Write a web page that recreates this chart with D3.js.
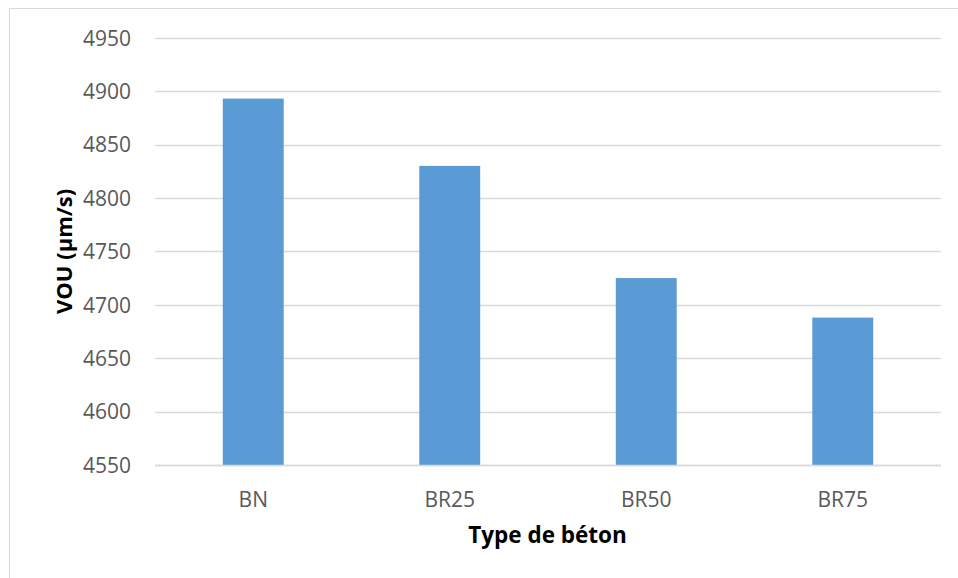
<!DOCTYPE html>
<html>
<head>
<meta charset="utf-8">
<script src="https://cdn.jsdelivr.net/npm/d3@7"></script>
<style>
  html, body { margin: 0; padding: 0; background: #fff; }
  svg { display: block; }
</style>
</head>
<body>
<svg id="chart" width="958" height="578"></svg>
<script>
// Ultrasonic pulse velocity per concrete type
const categories = ["BN", "BR25", "BR50", "BR75"];
const values = [4893, 4830, 4725, 4688];
const yTicks = [4550, 4600, 4650, 4700, 4750, 4800, 4850, 4900, 4950];
const yTitle = "VOU (µm/s)";
const xTitle = "Type de béton";

const svg = d3.select("#chart");
const plot = { left: 155, right: 941, top: 37.7, bottom: 465 };
const font = "'Open Sans', 'Noto Sans', sans-serif";

// outer chart frame
svg.append("rect")
  .attr("x", 9.5).attr("y", 8.5)
  .attr("width", 1000).attr("height", 1000)
  .attr("fill", "#fff").attr("stroke", "#d9d9d9").attr("stroke-width", 1);

const x = d3.scaleBand()
  .domain(categories)
  .range([plot.left, plot.right])
  .paddingInner(0.69)
  .paddingOuter(0.345);

const y = d3.scaleLinear()
  .domain([4550, 4950])
  .range([plot.bottom, plot.top]);

// horizontal gridlines
svg.append("g")
  .selectAll("line")
  .data(yTicks)
  .join("line")
  .attr("x1", plot.left).attr("x2", plot.right)
  .attr("y1", d => Math.round(y(d)) + 0.5)
  .attr("y2", d => Math.round(y(d)) + 0.5)
  .attr("stroke", "#d9d9d9").attr("stroke-width", 1.3);

// bars
svg.append("g")
  .selectAll("rect")
  .data(categories.map((c, i) => ({ c, v: values[i] })))
  .join("rect")
  .attr("x", d => x(d.c))
  .attr("width", x.bandwidth())
  .attr("y", d => y(d.v))
  .attr("height", d => y(4550) - y(d.v))
  .attr("fill", "#5b9bd5");

// y axis labels
const yAxis = d3.axisLeft(y).tickValues(yTicks).tickFormat(d3.format("d"))
  .tickSize(0).tickPadding(0);
const gy = svg.append("g")
  .attr("transform", `translate(${plot.left - 24},0)`)
  .call(yAxis);
gy.select(".domain").remove();
gy.selectAll("text")
  .attr("font-family", font).attr("font-size", 21)
  .attr("fill", "#595959").attr("dy", "0.35em");

// x axis line and labels
svg.append("line")
  .attr("x1", plot.left).attr("x2", plot.right)
  .attr("y1", plot.bottom + 0.5).attr("y2", plot.bottom + 0.5)
  .attr("stroke", "#d9d9d9").attr("stroke-width", 1.3);

const xAxis = d3.axisBottom(x).tickSize(0).tickPadding(0);
const gx = svg.append("g")
  .attr("transform", `translate(0,${plot.bottom})`)
  .call(xAxis);
gx.select(".domain").remove();
gx.selectAll("text")
  .attr("font-family", font).attr("font-size", 21)
  .attr("fill", "#595959").attr("dy", null).attr("y", 0)
  .attr("transform", "translate(0,42)");

// axis titles
svg.append("text")
  .attr("x", (plot.left + plot.right) / 2 - 0.5)
  .attr("y", 543)
  .attr("text-anchor", "middle")
  .attr("font-family", font).attr("font-weight", "bold")
  .attr("font-size", 22.5).attr("fill", "#000")
  .text(xTitle);

svg.append("text")
  .attr("transform", `translate(72,${(plot.top + plot.bottom) / 2}) rotate(-90)`)
  .attr("text-anchor", "middle")
  .attr("font-family", font).attr("font-weight", "bold")
  .attr("font-size", 22).attr("fill", "#000")
  .text(yTitle);
</script>
</body>
</html>
